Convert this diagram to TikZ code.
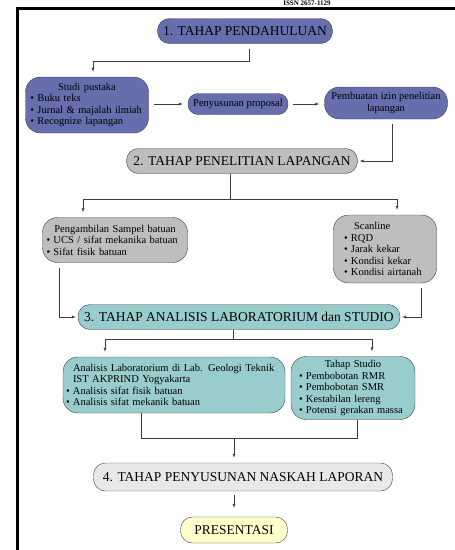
\documentclass[tikz,border=0pt]{standalone}
\usepackage{fontspec}
\setmainfont{Liberation Serif}
\usepackage{xcolor}
\usepackage{tikz}
\usetikzlibrary{positioning,calc,arrows,shapes}

\definecolor{tahapblue}{RGB}{102,110,174}
\definecolor{tahapgray}{RGB}{190,190,190}
\definecolor{tahapteal}{RGB}{153,205,205}
\definecolor{tahaplight}{RGB}{232,232,232}
\definecolor{tahapyellow}{RGB}{255,255,204}
\definecolor{lineclr}{RGB}{60,60,60}

\newcommand{\bul}{\makebox[7pt][l]{\textbullet}}
\newcommand{\judul}[1]{\hfill #1\hfill\null}

\begin{document}
\begin{tikzpicture}[x=1pt,y=-1pt,
    tahap/.style={draw=lineclr, rounded corners=12pt, inner xsep=1.5pt, inner ysep=0pt,
        minimum height=25pt, font=\fontsize{13.5}{15}\selectfont},
    isi/.style={draw=lineclr, rounded corners=15pt, align=left, inner sep=0pt,
        font=\fontsize{10.5}{11.5}\selectfont},
    flow/.style={-latex, draw=lineclr, shorten >=5pt, shorten <=5pt},
    joint/.style={draw=lineclr}]
    \useasboundingbox (0,0) rectangle (455,550);
    % frame of the page
    \draw[line width=3pt] (17,550) -- (17,8) -- (455,8);
    \node[font=\bfseries\fontsize{7}{8}\selectfont, anchor=base, inner sep=0pt] (issn) at (307,5.5) {ISSN 2657-1129};

    \node[tahap, fill=tahapblue, minimum width=175pt] (t1) at (245,31) {1. TAHAP PENDAHULUAN};
    \node[isi, fill=tahapblue, text width=113pt, minimum width=123pt, minimum height=56pt] (studi) at (87,105)
        {\judul{Studi pustaka}\\ \bul Buku teks\\ \bul Jurnal \& majalah ilmiah\\ \bul Recognize lapangan};
    \node[isi, fill=tahapblue, rounded corners=10pt, minimum width=100pt, minimum height=21pt] (proposal) at (238,104)
        {Penyusunan proposal};
    \node[isi, fill=tahapblue, align=center, minimum width=123pt, minimum height=32pt] (izin) at (386,103)
        {Pembuatan izin penelitian\\ lapangan};

    \node[tahap, fill=tahapgray, minimum width=231pt] (t2) at (242,161) {2. TAHAP PENELITIAN LAPANGAN};
    \node[isi, fill=tahapgray, text width=137pt, minimum width=145pt, minimum height=45pt] (sampel) at (115,240)
        {\judul{Pengambilan Sampel batuan}\\ \bul UCS / sifat mekanika batuan\\ \bul Sifat fisik batuan\\[3pt]};
    \node[isi, fill=tahapgray, text width=82pt, minimum width=103pt, minimum height=68pt] (scan) at (385,249)
        {\hspace*{10pt}Scanline\\ \bul RQD\\ \bul Jarak kekar\\ \bul Kondisi kekar\\ \bul Kondisi airtanah};

    \node[tahap, fill=tahapteal, minimum width=322pt] (t3) at (239,317) {3. TAHAP ANALISIS LABORATORIUM dan STUDIO};
    \node[isi, fill=tahapteal, text width=216pt, minimum width=222pt, minimum height=56pt] (lab) at (174,385)
        {\hspace*{7pt}Analisis Laboratorium di Lab. Geologi Teknik\\ \hspace*{7pt}IST AKPRIND Yogyakarta\\
         \bul Analisis sifat fisik batuan\\ \bul Analisis sifat mekanik batuan\\[3pt]};
    \node[isi, fill=tahapteal, text width=108pt, minimum width=124pt, minimum height=63pt] (studio) at (353,388)
        {\judul{Tahap Studio}\\ \bul Pembobotan RMR\\ \bul Pembobotan SMR\\ \bul Kestabilan lereng\\ \bul Potensi gerakan massa};

    \node[tahap, fill=tahaplight, minimum width=299pt, minimum height=28pt] (t4) at (243,477) {4. TAHAP PENYUSUNAN NASKAH LAPORAN};
    \node[tahap, fill=tahapyellow, minimum width=107pt, minimum height=26pt] (pres) at (234,530) {PRESENTASI};

    % tahap 1
    \draw[flow] ([xshift=4pt]t1.south) -- ++(0,17) -| ([xshift=6pt]studi.north);
    \draw[flow] (studi.east |- proposal) -- (proposal.west);
    \draw[flow] (proposal.east) -- (izin.west |- proposal);
    \draw[flow, shorten >=2pt] ([xshift=6pt]izin.south) |- (t2.east);

    % tahap 2
    \draw[joint] ([xshift=-12pt]t2.south) -- ++(0,25) coordinate (c2);
    \draw[flow, shorten <=0pt] (c2) -| ([xshift=-32pt]sampel.north);
    \draw[flow, shorten <=0pt] (c2) -| ([xshift=12pt]scan.north);
    \draw[flow, shorten >=2pt] ([xshift=-56pt]sampel.south) |- (t3.west);
    \draw[flow, shorten >=2pt] ([xshift=36pt]scan.south) |- (t3.east);

    % tahap 3
    \draw[joint] ([xshift=-6pt]t3.south) -- ++(0,9) coordinate (c3);
    \draw[flow, shorten <=0pt] (c3) -| ([xshift=-69pt]lab.north);
    \draw[flow, shorten <=0pt] (c3) -| ([xshift=19pt]studio.north);
    \draw[joint] ([xshift=-33pt]lab.south) -- ++(0,25) coordinate (c4) -| ([xshift=4pt]studio.south);
    \draw[flow, shorten <=0pt] (c4 -| pres.north) -- (t4.north -| pres.north);

    % tahap 4
    \draw[flow, shorten <=4pt, shorten >=9pt] (t4.south -| pres.north) -- (pres.north);
\end{tikzpicture}
\end{document}
